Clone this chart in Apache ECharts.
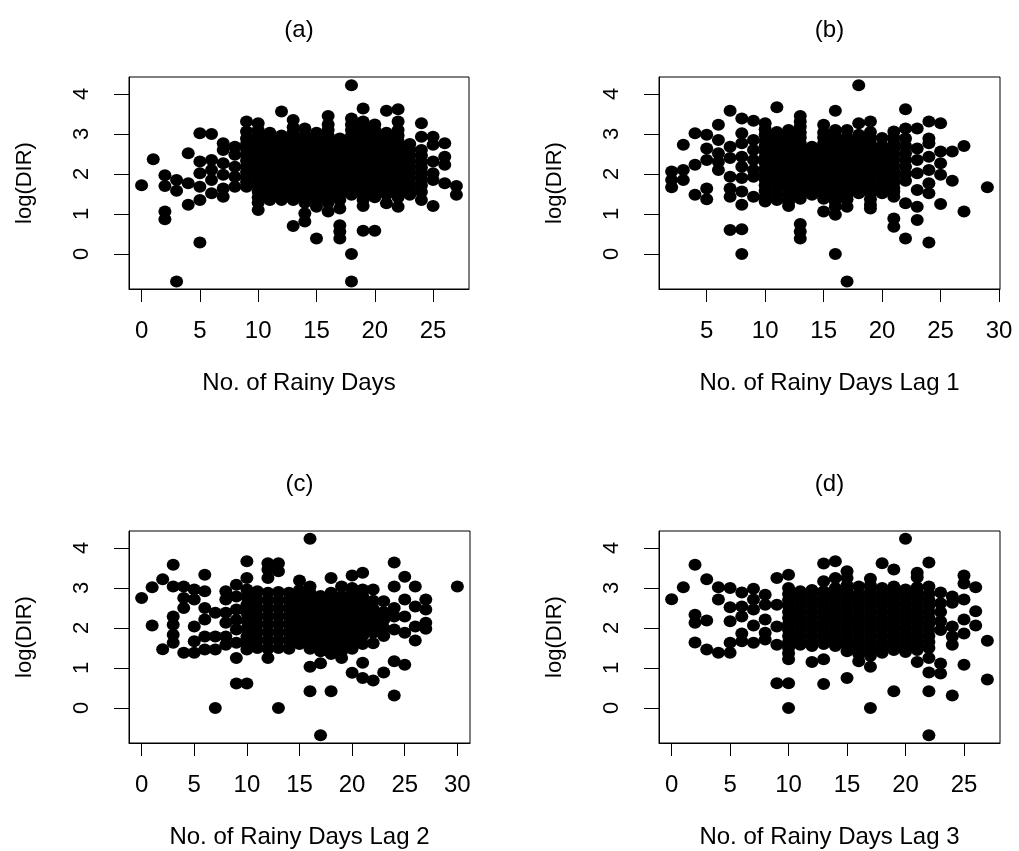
<!DOCTYPE html>
<html>
<head>
<meta charset="utf-8">
<script src="https://cdn.jsdelivr.net/npm/echarts@6/dist/echarts.min.js"></script>
<style>html,body{margin:0;padding:0;background:#fff}#c{width:1019px;height:851px}</style>
</head>
<body>
<div id="c"></div>
<script>
// ---- data: [rainy days, log(DIR)] ----
const dataA = [
[0,1.72],[1,2.37],[2,1.97],[2,1.70],[2,1.06],[2,0.87],[3,1.85],[3,1.58],[3,-0.69],
[4,2.52],[4,1.77],[4,1.23],[5,3.02],[5,2.31],[5,2.02],[5,1.68],[5,1.35],[5,0.29],
[6,3.00],[6,2.35],[6,2.10],[6,1.85],[6,1.52],[7,2.77],[7,2.60],[7,2.27],[7,1.98],[7,1.64],[7,1.43],
[8,2.68],[8,2.48],[8,2.18],[8,1.93],[8,1.68],
[9,3.31],[9,3.06],[9,2.89],[9,2.75],[9,2.61],[9,2.47],[9,2.33],[9,2.19],[9,2.05],[9,1.91],[9,1.80],[9,1.68],
[10,3.27],[10,3.10],[10,2.96],[10,2.82],[10,2.68],[10,2.54],[10,2.40],[10,2.26],[10,2.12],[10,1.98],[10,1.84],[10,1.70],[10,1.56],[10,1.42],[10,1.28],[10,1.10],
[11,3.03],[11,2.89],[11,2.75],[11,2.61],[11,2.47],[11,2.33],[11,2.19],[11,2.05],[11,1.91],[11,1.77],[11,1.63],[11,1.49],[11,1.35],
[12,3.56],[12,2.96],[12,2.82],[12,2.68],[12,2.54],[12,2.40],[12,2.26],[12,2.12],[12,1.98],[12,1.84],[12,1.70],[12,1.56],[12,1.42],[12,1.35],
[13,3.35],[13,3.17],[13,3.03],[13,2.89],[13,2.75],[13,2.61],[13,2.47],[13,2.33],[13,2.19],[13,2.05],[13,1.91],[13,1.77],[13,1.63],[13,1.49],[13,1.35],[13,0.70],
[14,3.14],[14,2.96],[14,2.82],[14,2.68],[14,2.54],[14,2.40],[14,2.26],[14,2.12],[14,1.98],[14,1.84],[14,1.70],[14,1.56],[14,1.42],[14,1.28],[14,1.02],[14,0.81],
[15,3.03],[15,2.89],[15,2.75],[15,2.61],[15,2.47],[15,2.33],[15,2.19],[15,2.05],[15,1.91],[15,1.77],[15,1.63],[15,1.49],[15,1.35],[15,1.18],[15,0.39],
[16,3.45],[16,3.24],[16,3.10],[16,2.96],[16,2.82],[16,2.68],[16,2.54],[16,2.40],[16,2.26],[16,2.12],[16,1.98],[16,1.84],[16,1.70],[16,1.56],[16,1.42],[16,1.28],[16,1.06],
[17,2.89],[17,2.75],[17,2.61],[17,2.47],[17,2.33],[17,2.19],[17,2.05],[17,1.91],[17,1.77],[17,1.63],[17,1.49],[17,1.35],[17,1.14],[17,0.72],[17,0.56],[17,0.39],
[18,4.22],[18,3.39],[18,3.24],[18,3.10],[18,2.96],[18,2.82],[18,2.68],[18,2.54],[18,2.40],[18,2.26],[18,2.12],[18,1.98],[18,1.84],[18,1.70],[18,1.56],[18,1.48],[18,0.00],[18,-0.69],
[19,3.64],[19,3.31],[19,3.17],[19,3.03],[19,2.89],[19,2.75],[19,2.61],[19,2.47],[19,2.33],[19,2.19],[19,2.05],[19,1.91],[19,1.77],[19,1.63],[19,1.49],[19,1.35],[19,1.20],[19,0.58],
[20,3.24],[20,3.10],[20,2.96],[20,2.82],[20,2.68],[20,2.54],[20,2.40],[20,2.26],[20,2.12],[20,1.98],[20,1.84],[20,1.70],[20,1.56],[20,1.42],[20,0.58],
[21,3.58],[21,3.03],[21,2.89],[21,2.75],[21,2.61],[21,2.47],[21,2.33],[21,2.19],[21,2.05],[21,1.91],[21,1.77],[21,1.63],[21,1.49],[21,1.27],
[22,3.62],[22,3.31],[22,3.10],[22,2.96],[22,2.82],[22,2.68],[22,2.54],[22,2.40],[22,2.26],[22,2.12],[22,1.98],[22,1.84],[22,1.70],[22,1.56],[22,1.42],[22,1.18],
[23,2.75],[23,2.61],[23,2.47],[23,2.33],[23,2.19],[23,2.05],[23,1.91],[23,1.77],[23,1.63],[23,1.48],
[24,3.27],[24,2.93],[24,2.60],[24,2.46],[24,2.30],[24,2.16],[24,2.02],[24,1.88],[24,1.72],[24,1.55],[24,1.35],
[25,2.93],[25,2.73],[25,2.31],[25,2.02],[25,1.85],[25,1.20],
[26,2.77],[26,2.43],[26,2.23],[26,1.77],[27,1.70],[27,1.48]
];
const dataB = [
[2,2.06],[2,1.85],[2,1.67],[3,2.73],[3,2.10],[3,1.85],[4,3.02],[4,2.23],[4,1.48],
[5,2.98],[5,2.64],[5,2.35],[5,1.64],[5,1.37],[6,3.23],[6,2.85],[6,2.52],[6,2.30],[6,2.10],
[7,3.58],[7,2.68],[7,2.40],[7,1.93],[7,1.64],[7,1.43],[7,0.60],
[8,3.39],[8,3.02],[8,2.77],[8,2.43],[8,2.18],[8,1.90],[8,1.56],[8,1.23],[8,0.62],[8,0.00],
[9,3.33],[9,2.85],[9,2.60],[9,2.35],[9,2.10],[9,1.93],[9,1.43],
[10,3.27],[10,3.12],[10,2.98],[10,2.84],[10,2.70],[10,2.56],[10,2.42],[10,2.28],[10,2.14],[10,2.00],[10,1.86],[10,1.72],[10,1.58],[10,1.44],[10,1.31],
[11,3.67],[11,3.05],[11,2.91],[11,2.77],[11,2.63],[11,2.49],[11,2.35],[11,2.21],[11,2.07],[11,1.93],[11,1.79],[11,1.65],[11,1.50],[11,1.35],
[12,3.10],[12,2.98],[12,2.84],[12,2.70],[12,2.56],[12,2.42],[12,2.28],[12,2.14],[12,2.00],[12,1.86],[12,1.72],[12,1.58],[12,1.44],[12,1.30],[12,1.20],
[13,3.45],[13,3.31],[13,3.18],[13,3.04],[13,2.91],[13,2.77],[13,2.63],[13,2.49],[13,2.35],[13,2.21],[13,2.07],[13,1.93],[13,1.79],[13,1.65],[13,1.51],[13,1.38],[13,0.75],[13,0.56],[13,0.39],
[14,2.68],[14,2.56],[14,2.42],[14,2.28],[14,2.14],[14,2.00],[14,1.86],[14,1.72],[14,1.58],[14,1.48],
[15,3.23],[15,3.04],[15,2.91],[15,2.77],[15,2.63],[15,2.49],[15,2.35],[15,2.21],[15,2.07],[15,1.93],[15,1.79],[15,1.65],[15,1.51],[15,1.38],[15,1.06],
[16,3.58],[16,3.10],[16,2.98],[16,2.84],[16,2.70],[16,2.56],[16,2.42],[16,2.28],[16,2.14],[16,2.00],[16,1.86],[16,1.72],[16,1.58],[16,1.44],[16,1.30],[16,1.18],[16,0.98],[16,0.00],
[17,3.10],[17,2.91],[17,2.77],[17,2.63],[17,2.49],[17,2.35],[17,2.21],[17,2.07],[17,1.93],[17,1.79],[17,1.65],[17,1.51],[17,1.37],[17,1.18],[17,-0.69],
[18,4.22],[18,3.27],[18,2.98],[18,2.84],[18,2.70],[18,2.56],[18,2.42],[18,2.28],[18,2.14],[18,2.00],[18,1.86],[18,1.72],[18,1.58],[18,1.52],
[19,3.31],[19,3.05],[19,2.91],[19,2.77],[19,2.63],[19,2.49],[19,2.35],[19,2.21],[19,2.07],[19,1.93],[19,1.79],[19,1.65],[19,1.51],[19,1.37],[19,1.23],[19,1.14],
[20,2.90],[20,2.70],[20,2.56],[20,2.42],[20,2.28],[20,2.14],[20,2.00],[20,1.86],[20,1.72],[20,1.58],[20,1.52],
[21,3.06],[21,2.91],[21,2.77],[21,2.63],[21,2.49],[21,2.35],[21,2.21],[21,2.07],[21,1.93],[21,1.79],[21,1.65],[21,1.56],[21,1.43],[21,0.89],[21,0.68],
[22,3.62],[22,3.14],[22,2.89],[22,2.70],[22,2.52],[22,2.35],[22,2.18],[22,2.00],[22,1.83],[22,1.27],[22,0.39],
[23,3.14],[23,2.64],[23,2.35],[23,2.02],[23,1.60],[23,1.18],[23,0.85],
[24,3.31],[24,2.89],[24,2.77],[24,2.43],[24,2.10],[24,1.77],[24,1.52],[24,0.29],
[25,3.27],[25,2.56],[25,2.27],[25,1.98],[25,1.25],[26,2.56],[26,1.83],[27,2.70],[27,1.06],[29,1.67]
];
const dataC = [
[0,2.75],[1,3.02],[1,2.06],[2,3.22],[2,1.47],[3,3.58],[3,3.04],[3,2.29],[3,2.08],[3,1.83],[3,1.63],
[4,3.04],[4,2.75],[4,2.50],[4,1.38],[5,2.96],[5,2.71],[5,2.04],[5,1.67],[5,1.38],
[6,3.33],[6,2.92],[6,2.50],[6,2.21],[6,1.79],[6,1.46],[7,2.38],[7,1.79],[7,1.46],[7,0.00],
[8,2.92],[8,2.71],[8,2.38],[8,2.13],[8,1.79],[8,1.58],
[9,3.08],[9,2.79],[9,2.46],[9,2.20],[9,1.96],[9,1.63],[9,1.25],[9,0.61],
[10,3.67],[10,3.25],[10,2.96],[10,2.78],[10,2.58],[10,2.38],[10,2.18],[10,1.98],[10,1.78],[10,1.58],[10,1.46],[10,0.61],
[11,2.92],[11,2.70],[11,2.50],[11,2.30],[11,2.10],[11,1.90],[11,1.70],[11,1.50],
[12,3.62],[12,3.46],[12,3.25],[12,2.88],[12,2.68],[12,2.48],[12,2.28],[12,2.08],[12,1.88],[12,1.68],[12,1.48],[12,1.25],
[13,3.62],[13,3.42],[13,2.90],[13,2.70],[13,2.50],[13,2.30],[13,2.10],[13,1.90],[13,1.70],[13,1.50],[13,0.00],
[14,2.88],[14,2.68],[14,2.48],[14,2.28],[14,2.08],[14,1.88],[14,1.68],[14,1.48],
[15,3.19],[15,2.95],[15,2.80],[15,2.60],[15,2.40],[15,2.20],[15,2.00],[15,1.80],[15,1.60],
[16,4.23],[16,3.04],[16,2.88],[16,2.68],[16,2.48],[16,2.28],[16,2.08],[16,1.88],[16,1.68],[16,1.48],[16,1.03],[16,0.42],
[17,2.80],[17,2.60],[17,2.40],[17,2.20],[17,2.00],[17,1.80],[17,1.60],[17,1.42],[17,1.12],[17,-0.68],
[18,3.25],[18,2.88],[18,2.68],[18,2.48],[18,2.28],[18,2.08],[18,1.88],[18,1.68],[18,1.48],[18,1.35],[18,0.42],
[19,3.04],[19,2.80],[19,2.60],[19,2.40],[19,2.20],[19,2.00],[19,1.80],[19,1.60],[19,1.42],[19,1.25],
[20,3.31],[20,3.00],[20,2.88],[20,2.68],[20,2.48],[20,2.28],[20,2.08],[20,1.88],[20,1.68],[20,1.48],[20,0.88],
[21,3.38],[21,2.96],[21,2.80],[21,2.60],[21,2.40],[21,2.20],[21,2.00],[21,1.80],[21,1.60],[21,1.13],[21,0.75],
[22,2.96],[22,2.68],[22,2.48],[22,2.28],[22,2.08],[22,1.88],[22,1.62],[22,0.69],
[23,2.67],[23,2.40],[23,2.20],[23,2.00],[23,1.80],[23,0.89],
[24,3.64],[24,3.04],[24,2.50],[24,2.29],[24,1.96],[24,1.17],[24,0.31],
[25,3.28],[25,2.71],[25,2.29],[25,1.88],[25,1.08],
[26,3.04],[26,2.54],[26,2.04],[26,1.69],[27,2.71],[27,2.46],[27,2.13],[27,1.98],[30,3.04]
];
const dataD = [
[0,2.72],[1,3.02],[2,3.58],[2,2.33],[2,2.13],[2,1.64],[3,3.22],[3,2.19],[3,1.46],
[4,3.02],[4,2.71],[4,1.38],[5,3.00],[5,2.52],[5,2.17],[5,1.63],[5,1.38],
[6,2.89],[6,2.54],[6,2.29],[6,1.86],[6,1.67],[7,2.98],[7,2.71],[7,2.46],[7,2.06],[7,1.63],
[8,2.83],[8,2.58],[8,2.21],[8,1.88],[8,1.71],[9,3.25],[9,2.58],[9,2.04],[9,1.58],[9,0.62],
[10,3.33],[10,3.00],[10,2.85],[10,2.70],[10,2.55],[10,2.40],[10,2.25],[10,2.10],[10,1.95],[10,1.80],[10,1.65],[10,1.50],[10,1.37],[10,1.22],[10,0.62],[10,0.00],
[11,2.92],[11,2.77],[11,2.62],[11,2.47],[11,2.32],[11,2.17],[11,2.02],[11,1.87],[11,1.72],[11,1.58],
[12,2.95],[12,2.85],[12,2.70],[12,2.55],[12,2.40],[12,2.25],[12,2.10],[12,1.95],[12,1.80],[12,1.65],[12,1.55],[12,1.15],
[13,3.61],[13,3.17],[13,2.92],[13,2.77],[13,2.62],[13,2.47],[13,2.32],[13,2.17],[13,2.02],[13,1.87],[13,1.72],[13,1.60],[13,1.22],[13,0.60],
[14,3.67],[14,3.25],[14,3.00],[14,2.85],[14,2.70],[14,2.55],[14,2.40],[14,2.25],[14,2.10],[14,1.95],[14,1.80],[14,1.65],[14,1.55],
[15,3.42],[15,3.25],[15,3.07],[15,2.92],[15,2.77],[15,2.62],[15,2.47],[15,2.32],[15,2.17],[15,2.02],[15,1.87],[15,1.72],[15,1.57],[15,1.42],[15,0.75],
[16,3.04],[16,2.85],[16,2.70],[16,2.55],[16,2.40],[16,2.25],[16,2.10],[16,1.95],[16,1.80],[16,1.65],[16,1.50],[16,1.35],[16,1.17],
[17,3.23],[17,3.07],[17,2.92],[17,2.77],[17,2.62],[17,2.47],[17,2.32],[17,2.17],[17,2.02],[17,1.87],[17,1.72],[17,1.57],[17,1.42],[17,1.30],[17,1.03],[17,0.00],
[18,3.62],[18,3.00],[18,2.85],[18,2.70],[18,2.55],[18,2.40],[18,2.25],[18,2.10],[18,1.95],[18,1.80],[18,1.65],[18,1.50],[18,1.38],
[19,3.46],[19,3.04],[19,2.92],[19,2.77],[19,2.62],[19,2.47],[19,2.32],[19,2.17],[19,2.02],[19,1.87],[19,1.72],[19,1.57],[19,1.45],[19,0.42],
[20,4.23],[20,2.96],[20,2.85],[20,2.70],[20,2.55],[20,2.40],[20,2.25],[20,2.10],[20,1.95],[20,1.80],[20,1.65],[20,1.50],[20,1.40],
[21,3.38],[21,3.27],[21,3.02],[21,2.92],[21,2.77],[21,2.62],[21,2.47],[21,2.32],[21,2.17],[21,2.02],[21,1.87],[21,1.72],[21,1.57],[21,1.45],[21,1.15],
[22,3.64],[22,3.04],[22,2.85],[22,2.70],[22,2.55],[22,2.40],[22,2.25],[22,2.10],[22,1.95],[22,1.80],[22,1.65],[22,1.50],[22,1.25],[22,0.89],[22,0.42],[22,-0.68],
[23,2.89],[23,2.62],[23,2.40],[23,2.17],[23,1.95],[23,1.11],[23,0.86],
[24,2.79],[24,2.63],[24,2.04],[24,1.79],[24,1.58],[24,0.31],
[25,3.31],[25,3.11],[25,2.71],[25,2.21],[25,1.86],[25,1.08],
[26,3.02],[26,2.42],[26,2.06],[27,1.68],[27,0.71]
];
const panelTitles = ['(a)', '(b)', '(c)', '(d)'];
const xNames = ['No. of Rainy Days', 'No. of Rainy Days Lag 1', 'No. of Rainy Days Lag 2', 'No. of Rainy Days Lag 3'];
const yName = 'log(DIR)';
const xTicksA = [0, 5, 10, 15, 20, 25];
const xTicksB = [5, 10, 15, 20, 25, 30];
const xTicksC = [0, 5, 10, 15, 20, 25, 30];
const xTicksD = [0, 5, 10, 15, 20, 25];
const yTicks = [0, 1, 2, 3, 4];
const xRanges = [[-1.08, 28.08], [0.92, 30.08], [-1.2, 31.2], [-1.08, 28.08]];
const yRange = [-0.875, 4.425];

const datasets = [dataA, dataB, dataC, dataD];
const xTickSets = [xTicksA, xTicksB, xTicksC, xTicksD];
const grids = [
  {left: 129, top: 77, width: 340, height: 212},
  {left: 659, top: 77, width: 341, height: 212},
  {left: 129, top: 531, width: 341, height: 212},
  {left: 659, top: 531, width: 341, height: 212}
];
const FONT = '"Liberation Sans", Arial, Helvetica, sans-serif';

const chart = echarts.init(document.getElementById('c'), null, {renderer: 'canvas'});
const option = {
  animation: false,
  backgroundColor: '#fff',
  grid: grids.map(g => Object.assign({show: true, borderColor: '#000', borderWidth: 1, backgroundColor: 'transparent', containLabel: false}, g)),
  xAxis: grids.map((g, i) => ({
    gridIndex: i, type: 'value', min: xRanges[i][0], max: xRanges[i][1],
    axisLine: {show: true, onZero: false, lineStyle: {color: '#000', width: 1}},
    splitLine: {show: false},
    axisTick: {show: true, length: 13, lineStyle: {color: '#000', width: 1}, customValues: xTickSets[i]},
    axisLabel: {show: true, customValues: xTickSets[i], margin: 30, color: '#000', fontSize: 24, fontFamily: FONT},
    name: xNames[i], nameLocation: 'middle', nameGap: 82,
    nameTextStyle: {color: '#000', fontSize: 24, fontFamily: FONT}
  })),
  yAxis: grids.map((g, i) => ({
    gridIndex: i, type: 'value', min: yRange[0], max: yRange[1],
    axisLine: {show: true, onZero: false, lineStyle: {color: '#000', width: 1}},
    splitLine: {show: false},
    axisTick: {show: true, length: 15, lineStyle: {color: '#000', width: 1}, customValues: yTicks},
    axisLabel: {show: true, customValues: yTicks, rotate: 90, margin: 36, color: '#000', fontSize: 22, fontFamily: FONT},
    name: yName, nameLocation: 'middle', nameGap: 93, nameRotate: 90,
    nameTextStyle: {color: '#000', fontSize: 22, fontFamily: FONT}
  })),
  graphic: grids.map((g, i) => ({
    type: 'text', x: g.left + g.width / 2, y: g.top - 47,
    style: {text: panelTitles[i], fill: '#000', font: '24px ' + FONT, textAlign: 'center', textVerticalAlign: 'middle'}
  })),
  series: datasets.map((d, i) => ({
    type: 'scatter', xAxisIndex: i, yAxisIndex: i, data: d,
    symbol: 'circle', symbolSize: [13, 12],
    itemStyle: {color: '#000', opacity: 1},
    emphasis: {disabled: true}, silent: true
  }))
};
chart.setOption(option);
</script>
</body>
</html>
